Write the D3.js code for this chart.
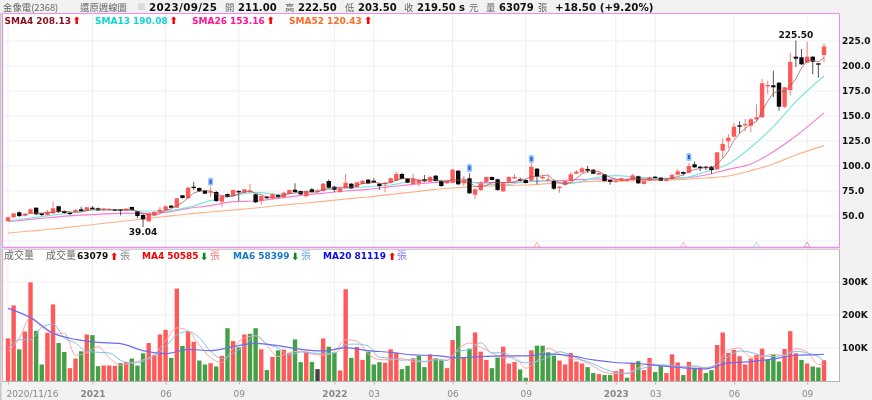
<!DOCTYPE html>
<html><head><meta charset="utf-8">
<script src="https://cdn.jsdelivr.net/npm/d3@7/dist/d3.min.js"></script>
<style>
html,body{margin:0;padding:0;background:#f2f2f2;width:872px;height:400px;overflow:hidden}
svg{display:block;filter:blur(0.45px)}
text{font-family:"DejaVu Sans",sans-serif}
.cjk{font-family:"Noto Sans CJK TC",sans-serif}
.b{font-weight:bold}
</style></head><body><svg id="c" width="872" height="400"></svg>
<script>
const opens=[45,48.7,53.7,50.3,52.7,58.3,52.7,51,52.7,59.7,55,53.3,54.3,56.7,55.3,58.3,57.7,55.7,56,56.7,56.7,55.3,59,54.7,51,44.7,50.7,54,55.7,60.3,58.3,70.7,67.7,79.3,78,75.3,74,74,64.3,72,70,75,73.3,74.7,71.7,65.3,69.3,67.7,71,68.7,72,76.3,75,69.7,76.7,74,75,85,79.3,74,78,82.3,79,82,86.3,85.3,82.3,81.7,83.3,85.3,92,87.3,82,82.7,86.7,84.3,90.3,85,82.7,83.3,95.3,82.7,87.7,71.3,76,84,89,86.7,74.7,84.3,88,86.7,86,85.3,97.3,87.7,86,85,78.3,81,85,92.3,93.7,97,96.3,91.3,91.7,86,84,85.3,85.3,86,89.7,82,85.3,89.3,88.3,85,87,91.3,94,93.3,101.7,99.3,99.3,99.3,96.7,115.3,124.7,129.3,140.7,141.3,140.3,146.7,148.7,180.3,180.7,183.3,159.3,176,209.3,208.7,203.3,209.3,202.7,211];
const closes=[48.7,52.7,50,52.3,56.7,51.7,51,54.3,57.7,54,53,52,56,55,58.7,57,55.7,57,57,55.7,55.7,57.3,56,50,46.7,52.7,54,56.3,59.7,58.3,67.7,68,78.3,78,74.7,72.3,74.7,65,70,69,76,73.7,76.7,75.3,63.7,70,67.7,72,68.7,73.3,76,74,71.7,75,74,75.3,82.3,78.3,76.3,77.7,83.3,77.7,83.7,85.3,82.7,83.3,80,83.3,87.7,92,87,83.3,87,86,84.7,89,85,80,85.3,96.3,81.7,86,72.7,76.7,82.7,89,86,76,82.7,89,89,86,83,99.3,89.3,89,86.7,77.3,79.3,85,91.7,94.3,97.7,95.3,92.3,93,85,84.3,85.3,87.7,86.7,90.7,82.7,85,88.7,88,85.3,86.7,91,94.7,92.3,100,98.7,98.3,98.3,96,113.7,122,128.3,139.3,140,142,146.7,148.7,182.7,181,178.7,159.3,178.7,204,207.3,201.7,209.3,204.3,201.7,219.5];
const highs=[49.5,53,54.7,53,57.5,58.7,53,56,64.3,60.3,55.5,54,57,59.3,59,60,58.5,57.5,57.5,57,57,58,59.5,55,52,53.5,54.5,59,60.5,61,68,71,79,84.3,78.5,76,79.3,75,70.5,72.5,76.5,76,77,82,72,70.5,70,72.5,71.5,74,76.5,82.7,75.5,75.5,78,77,83,86.5,80,78,92,83,84.5,86,87,87.7,83,84,88.5,94,93,88,92,87.5,91,90,91,86,86,97,96,90,92.7,77.5,85,89.5,89.5,87.5,83,90,92,88.5,86.5,104,98,91.7,91,86.5,80,85.5,94,96,99,100,97,94,92,86.5,86,88.5,87,92,90.5,85.5,89.5,90,89,87,92.5,97,94.5,103,104.5,100,100,100,114,127.7,132,143,144.7,147,148,161.7,187,185,195.3,184,179,213.3,225.5,217,224.3,210,202.7,222.5];
const lows=[44,48,49,50,52,51,50,50.5,52,53,52.5,51,54,54.5,55,56,55,55,55.5,55.5,50.7,55,55.5,48,39.04,44,50,53.5,55,58,58,67.5,67.5,76,74,72,69.3,64,58.7,68.5,69.5,65,73,73.3,63,61.3,67.5,66.5,68,68.3,71.5,73.5,71,69,73.5,73,74.5,78,74,73,77.5,77,78.5,81.5,82,83,76,73.7,83,85,86.5,83,81,79.3,84,84,84.5,79,82,83,81,80,72,67,75,83.5,85.5,75,74,84,87,85.5,82.5,84.5,81.7,86.5,85.5,76,73.3,80.5,84.5,92,93,93,92,91,84.5,81.3,83.5,85,85,85.5,82,81.5,85,87.5,85,84.5,86,91,90.5,92.5,98,95,96,92,96,107.7,118,128.5,132.7,135,134,145,148,172,169,155.3,158,170.3,199,201,203,191.7,188.3,203.5];
const volumes=[129,229,96,150,299,152,50,146,232,115,88,39,68,90,141,139,45,47,47,46,54,58,68,47,84,115,79,141,155,70,280,106,150,119,62,50,54,44,76,160,121,102,141,143,160,96,33,73,93,95,84,126,57,89,58,36,129,104,86,32,278,70,103,64,89,50,57,55,96,86,36,46,69,76,42,81,69,63,39,124,167,72,98,147,89,64,39,71,104,53,58,35,10,93,107,107,87,77,62,50,85,59,53,42,24,21,18,18,30,36,10,55,60,33,70,27,48,24,81,56,18,58,40,40,24,33,109,147,85,94,75,50,68,79,98,65,81,59,97,151,84,64,53,44,41,63];
const volumeTone=["rrgrrggrrg","grrgrggrrr","grgggrrrrg","rgrrggrgrg","rgrggrgrgr","rggrgkrggr","rgrrgggrrr","ggrggrggrr","grgrrrggrr","rggrggggrr","rrrggrggrr","grgrrggrrr","grgrggrrrr","rrrrrgggrr","rgrggr"].join("");
const sma4=[50.9,52.9,52.7,52.9,53.4,53.7,54.3,54.8,54.2,53.8,54,55.4,56.7,56.6,57.1,56.7,56.4,56.4,56.4,56.2,54.8,52.5,51.4,50.9,52.4,55.7,57.1,60.5,63.4,68.1,73,74.8,75.8,74.9,71.7,70.5,69.7,70,72.2,73.9,75.4,72.4,71.4,69.2,68.4,69.6,70.4,72.5,73,73.8,74.2,73.7,74,76.7,77.5,78.1,78.7,78.9,78.8,80.6,82.5,82.4,83.8,82.8,82.3,83.6,85.8,87.5,87.5,87.3,85.8,85.3,86.7,86.2,84.7,84.8,86.7,85.8,87.3,84.2,79.3,79.5,80.3,83.6,83.4,83.4,83.4,84.2,86.7,86.8,89.3,89.4,90.2,91.1,85.6,83.1,82.1,83.3,87.6,92.2,94.8,94.9,94.6,91.4,88.7,86.9,85.6,86,87.6,87,86.3,86.8,86.1,86.8,87.2,87.8,89.4,91.2,94.5,96.4,97.3,98.8,97.8,101.6,107.5,115,125.8,132.4,137.4,142,144.4,155,164.8,172.8,175.4,174.4,180.2,187.3,197.9,205.6,205.7,204.3,208.13];
const sma13=[45,48,51,53.7,56,56,55,55,58.7,65.3,70,73.7,71.7,74,76,77.7,79.3,81,85,86,85,82.7,81,84.3,85.3,82.7,87.7,90.3,88.7,87.7,88.3,94.3,102,118.7,139.3,164.3,190.08];
const sma26=[44.3,46.7,48.7,50.7,51.7,52.7,52.7,53.7,57.7,60.3,64.3,65,67.7,70.7,72.7,75,76.7,79.3,81.7,83.7,84.3,83.3,83.3,84.3,85,86,87,86.7,87.3,87.3,88,91,96.7,102,114.3,130,153.16];
const sma52=[33,35,37,39.5,42,44.5,47,49.5,52,54,56,58,60.5,62.5,64.7,67,69,71.7,74,76.7,78.3,80,80.3,81,82.3,83.3,84.7,84.7,85.3,86,86.7,88,90,95.3,102,111,120.43];
const volMa4=[89,130,193,163,145,145,78,85,104,70,48,56,64,81,122,161,152,109,71,56,100,131,137,108,74,86,90,82,78,89,125,121,82,65,64,68,59,58,67,63,98,115,102,85,70,72,39,61,99,83,69,62,45,26,22,24,40,55,45,45,45,43,41,52,94,100,72,74,81,76,98,88,50,50.585];
const volMa6=[99,125,125,163,172,131,115,90,87,85,63,53,60,75,104,140,150,131,90,68,84,107,138,113,100,79,88,85,83,84,111,112,106,72,69,63,65,59,64,62,91,94,116,85,86,65,55,59,73,89,78,64,52,36,26,22,35,44,49,47,42,46,39,51,73,91,87,77,74,80,90,85,73,58.399];
const volMa20=[220,192,145,126,117,113,92,83,96,92,104,114,107,96,91,101,92,87,79,77,70,74,76,76,82,76,64,56,53,46,40,37,55,59,67,78,80,81.119];
const xTickIdx=[0,15,28,41,58,65,79,92,108,115,129,142];
const xTickLabels=["2020/11/16","2021","06","09","2022","03","06","09","2023","03","06","09"];
const priceTicks=[25,50,75,100,125,150,175,200,225];
const volumeTicks=[100,200,300];
const flagIdx=[36,82,93,121], flagPrice=[84.3,98,107,109];
const crossIdx=[94,120,133,142];

const svg=d3.select("#c");
const n=closes.length;
const x=d3.scaleLinear().domain([0,n-1]).range([8,824]);
const y=d3.scaleLinear().domain([25,225]).range([241,41]);
const yv=d3.scaleLinear().domain([0,300]).range([381,282]);
const red="#ff5a5a",green="#45a045";

svg.append("rect").attr("x",3).attr("y",13.5).attr("width",836.5).attr("height",234).attr("fill","#fff");
svg.append("rect").attr("x",3).attr("y",250).attr("width",836.5).attr("height",131).attr("fill","#fff");
svg.append("rect").attr("x",0).attr("y",13).attr("width",1.5).attr("height",387).attr("fill","#c8c8c8");

const grid=svg.append("g").attr("stroke","#efefef").attr("stroke-width",1);
xTickIdx.forEach(i=>{
  grid.append("line").attr("x1",x(i)).attr("x2",x(i)).attr("y1",14).attr("y2",247);
  grid.append("line").attr("x1",x(i)).attr("x2",x(i)).attr("y1",250).attr("y2",381);
});
priceTicks.forEach(p=>grid.append("line").attr("x1",3).attr("x2",839).attr("y1",y(p)).attr("y2",y(p)));
volumeTicks.forEach(v=>grid.append("line").attr("x1",3).attr("x2",839).attr("y1",yv(v)).attr("y2",yv(v)));

svg.append("path").attr("d","M2.5 247.5V13.5H839.5V247.5Z").attr("fill","none").attr("stroke","#f08cf0").attr("stroke-width",1);
svg.append("line").attr("x1",2).attr("x2",840).attr("y1",247.5).attr("y2",247.5).attr("stroke","#f08cf0").attr("stroke-width",1.5);
svg.append("line").attr("x1",0).attr("x2",840).attr("y1",249.5).attr("y2",249.5).attr("stroke","#cfcfcf");
svg.append("line").attr("x1",2.5).attr("x2",2.5).attr("y1",250).attr("y2",381).attr("stroke","#f0a0c0");
svg.append("line").attr("x1",839.5).attr("x2",839.5).attr("y1",250).attr("y2",381).attr("stroke","#b5b5b5");
svg.append("line").attr("x1",2).attr("x2",840).attr("y1",381.5).attr("y2",381.5).attr("stroke","#b5b5b5");

const smaIdx=d3.range(0,141,4).concat([n-1]);
const lineOf=(xs,ys,sc,curve)=>d3.line().x((d,i)=>x(xs[i])).y(d=>sc(d)).curve(curve)(ys);
const gm=svg.append("g").attr("fill","none");
gm.append("path").attr("d",lineOf(smaIdx,sma52,y,d3.curveMonotoneX)).attr("stroke","#ffb08a").attr("stroke-width",1.2);
gm.append("path").attr("d",lineOf(smaIdx,sma26,y,d3.curveMonotoneX)).attr("stroke","#f57fd0").attr("stroke-width",1.2);
gm.append("path").attr("d",lineOf(smaIdx,sma13,y,d3.curveMonotoneX)).attr("stroke","#7fe3e0").attr("stroke-width",1.2);

const isUp=i=>closes[i]>=opens[i];
const gc=svg.append("g");
gc.selectAll("line").data(d3.range(n)).join("line")
  .attr("x1",x).attr("x2",x).attr("y1",i=>y(highs[i])).attr("y2",i=>y(lows[i]))
  .attr("stroke",i=>isUp(i)?"#ff7a7a":"#555").attr("stroke-width",1);
gc.selectAll("rect").data(d3.range(n)).join("rect")
  .attr("x",i=>x(i)-2.2).attr("width",4.4)
  .attr("y",i=>y(Math.max(opens[i],closes[i])))
  .attr("height",i=>Math.max(1.4,Math.abs(y(opens[i])-y(closes[i]))))
  .attr("fill",i=>isUp(i)?red:"#0a0a0a");
svg.append("path").attr("fill","none").attr("d",lineOf(d3.range(3,n),sma4,y,d3.curveLinear)).attr("stroke","#a05050").attr("stroke-width",.9).attr("opacity",.8);

const gf=svg.append("g");
flagIdx.forEach((i,k)=>{
  gf.append("rect").attr("x",x(i)-2.5).attr("y",y(flagPrice[k])-4).attr("width",5).attr("height",8).attr("rx",1.5).attr("fill","#8cc8fa");
  gf.append("rect").attr("x",x(i)-1).attr("y",y(flagPrice[k])-2).attr("width",2).attr("height",4).attr("fill","#3a4fd0");
});
const triColors=["#f0a090","#f0a0d0","#90e0e0","#c09090"];
crossIdx.forEach((i,k)=>{
  svg.append("path").attr("d",d3.symbol().type(d3.symbolTriangle).size(14)()).attr("transform",`translate(${x(i)},245.3)`).attr("fill","#fff").attr("stroke",triColors[k]).attr("stroke-width",.8);
});

const tone=t=>t==="r"?red:t==="g"?green:"#444";
svg.append("g").selectAll("rect").data(volumes).join("rect")
  .attr("x",(d,i)=>x(i)-2.2).attr("width",4.4).attr("y",d=>yv(d)).attr("height",d=>yv(0)-yv(d))
  .attr("fill",(d,i)=>tone(volumeTone[i]));
const maFastIdx=d3.range(0,145,2).concat([n-1]);
const maSlowIdx=d3.range(0,145,4).concat([n-1]);
const gv=svg.append("g").attr("fill","none").attr("stroke-width",1);
gv.append("path").attr("d",lineOf(maFastIdx,volMa4,yv,d3.curveMonotoneX)).attr("stroke","#ffa5a5");
gv.append("path").attr("d",lineOf(maFastIdx,volMa6,yv,d3.curveMonotoneX)).attr("stroke","#80c0ea");
gv.append("path").attr("d",lineOf(maSlowIdx,volMa20,yv,d3.curveMonotoneX)).attr("stroke","#6c6cf0").attr("stroke-width",1.2);

const axR=d3.axisRight(y).tickValues(priceTicks.filter(p=>p>=50)).tickSize(0).tickPadding(0).tickFormat(d3.format(".1f"));
const gy=svg.append("g").attr("transform","translate(842,0)").call(axR);
const axV=d3.axisRight(yv).tickValues(volumeTicks).tickSize(0).tickPadding(0).tickFormat(d=>d+"K");
const gyv=svg.append("g").attr("transform","translate(842,0)").call(axV);
[gy,gyv].forEach(g=>{g.select(".domain").remove();g.selectAll("text").attr("font-size",9).attr("font-weight","bold").attr("fill","#111").attr("font-family","DejaVu Sans");});
const axX=d3.axisBottom(x).tickValues(xTickIdx).tickSize(3).tickPadding(6).tickFormat((d,i)=>xTickLabels[i]);
const gx=svg.append("g").attr("transform","translate(0,381.5)").call(axX);
gx.select(".domain").remove();
gx.selectAll("line").attr("stroke","#b5b5b5");
gx.selectAll("text").attr("font-size",9).attr("fill","#888").attr("font-family","DejaVu Sans")
  .attr("font-weight",(d,i)=>/^20\d\d$/.test(xTickLabels[i])?"bold":"normal")
  .attr("x",(d,i)=>i===0?24:0);

function t(str,px,py,o={}){
  const el=svg.append("text").attr("x",px).attr("y",py).attr("font-size",o.s||9).text(str)
    .attr("class",(o.c?"cjk":"")+(o.b?" b":"")).attr("fill",o.f||"#111").attr("text-anchor",o.a||"start");
  if(o.w) el.attr("textLength",o.w).attr("lengthAdjust","spacing");
  return el;
}
t("225.50",x(140),37.5,{b:1,a:"middle"});
t("39.04",x(24),235,{b:1,a:"middle"});

const G="#666";
const cy=11, cs=9.4;
t("金像電(2368)",3,cy,{c:1,s:cs,f:G});
t("還原週線圖",80,cy,{c:1,s:cs,f:G});
svg.append("rect").attr("x",138).attr("y",3).attr("width",7).attr("height",7).attr("fill","#dcdcdc");
t("2023/09/25",149,10.5,{b:1,s:10.3,w:68});
t("開",225,cy,{c:1,s:cs,f:G}); t("211.00",238,10.5,{b:1,s:10});
t("高",285,cy,{c:1,s:cs,f:G}); t("222.50",298,10.5,{b:1,s:10});
t("低",345,cy,{c:1,s:cs,f:G}); t("203.50",358,10.5,{b:1,s:10});
t("收",404,cy,{c:1,s:cs,f:G}); t("219.50",417,10.5,{b:1,s:10});
t("s",459,10.5,{b:1,s:10}); t("元",469,cy,{c:1,s:cs,f:G});
t("量",486,cy,{c:1,s:cs,f:G}); t("63079",499,10.5,{b:1,s:10});
t("張",538,cy,{c:1,s:cs,f:G}); t("+18.50 (+9.20%)",555,10.5,{b:1,s:10.3});

const arrow=(px,py,up)=>t(up?"⬆":"⬇",px,py,{s:10,f:up?"#f00":"#0a8a1a",b:1});
t("SMA4 208.13",4.5,23.5,{b:1,f:"#8b0f1a"}); arrow(72.5,24,1);
t("SMA13 190.08",95,23.5,{b:1,f:"#12d4d4"}); arrow(169.5,24,1);
t("SMA26 153.16",192,23.5,{b:1,f:"#ff1493"}); arrow(266.5,24,1);
t("SMA52 120.43",289,23.5,{b:1,f:"#ff6a26"}); arrow(364,24,1);

t("成交量",4,259,{c:1,s:10,f:G});
t("成交量",46,259,{c:1,s:10,f:G});
t("63079",77,259,{b:1}); arrow(110,259.5,1); t("張",120,259,{c:1,s:10,f:"#888"});
t("MA4 50585",142,259,{b:1,f:"#f00000"}); arrow(200,259.5,0); t("張",210,259,{c:1,s:10,f:"#f08080"});
t("MA6 58399",233,259,{b:1,f:"#1a78c8"}); arrow(291,259.5,0); t("張",301,259,{c:1,s:10,f:"#70a8d8"});
t("MA20 81119",323,259,{b:1,f:"#0a0af0"}); arrow(388,259.5,1); t("張",397,259,{c:1,s:10,f:"#8080e8"});
</script></body></html>
